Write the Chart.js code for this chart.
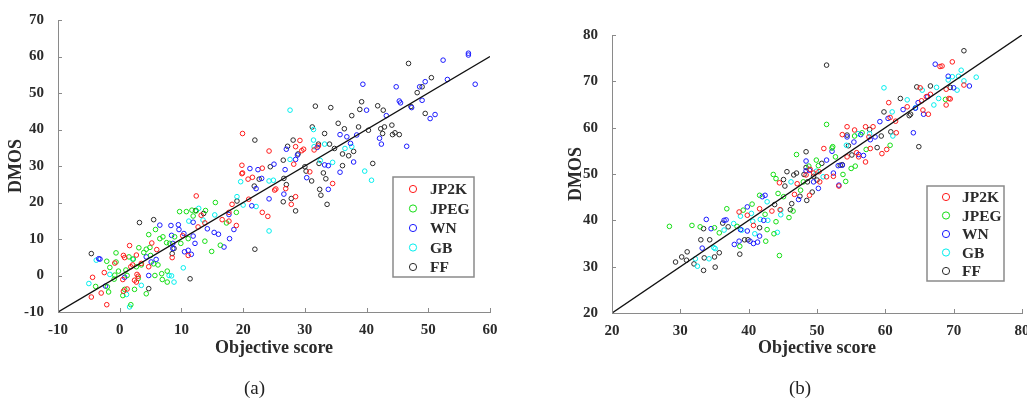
<!DOCTYPE html>
<html lang="en">
<head>
    <meta charset="UTF-8">
    <title>DMOS vs objective score</title>
    <script src="https://cdn.jsdelivr.net/npm/chart.js"></script>
    <style>
        html, body { margin: 0; padding: 0; background: #fff; overflow: hidden; }
        body { width: 1027px; height: 399px; position: relative; }
        canvas { position: absolute; top: 0; }
        #chartA { left: 0; }
        #chartB { left: 540px; }
        .caption { position: absolute; top: 377px; font: 19px "Liberation Serif", serif; color: #222; }
        #capA { left: 244px; }
        #capB { left: 789px; }
    </style>
</head>
<body>
    <canvas id="chartA" width="510" height="399"></canvas>
    <canvas id="chartB" width="500" height="399"></canvas>
    <div class="caption" id="capA">(a)</div>
    <div class="caption" id="capB">(b)</div>

    <script>
        // Series names and colours (shared by both panels)
        const labels = ['JP2K', 'JPEG', 'WN', 'GB', 'FF'];
        const colors = ['#ff1a1a', '#14dd14', '#1a1aff', '#00eeee', '#2a2a2a'];

        // Panel (a): [objective score, DMOS]
        const jp2kA = [[-4.6,-5.9],[-4.4,-0.5],[-3.0,-4.8],[-2.5,0.8],[-2.1,-8.0],[-0.8,3.4],[0.6,5.5],[0.8,4.9],[0.5,-1.1],[0.6,-4.3],
            [1.2,-3.7],[1.6,8.2],[1.8,2.4],[2.1,2.9],[2.4,-1.3],[2.7,-1.8],[2.7,5.6],[2.8,0.3],[3.0,-0.2],[3.5,3.3],
            [4.7,2.4],[5.2,8.9],[6.0,7.1],[8.5,4.9],[10.2,10.9],[11.1,5.5],[12.4,21.8],[12.7,13.3],[13.2,16.5],[13.8,14.4],
            [16.6,15.3],[17.7,14.9],[17.7,17.3],[18.2,19.5],[18.9,13.7],[19.9,38.9],[19.8,30.2],[19.8,27.9],[19.9,28.1],[20.8,26.4],
            [20.9,20.9],[21.5,26.9],[23.1,29.4],[23.1,17.3],[24.0,16.2],[24.2,34.1],[25.1,23.4],[25.3,23.7],[26.9,23.8],[27.8,19.5],
            [28.2,30.5],[28.5,35.3],[28.5,21.6],[29.2,37.0],[29.5,34.2],[29.8,34.6],[30.8,28.4],[31.5,34.4],[34.5,25.2],[32.2,35.5]];
        const jpegA = [[-3.9,-3.0],[-2.1,3.9],[-2.0,-3.1],[-1.8,-4.5],[-1.6,2.2],[-0.9,-1.0],[-0.8,0.1],[-0.6,6.2],[-0.6,3.7],[-0.2,1.2],
            [0.5,-5.5],[0.8,-3.8],[1.2,0.0],[1.5,5.1],[1.8,-8.0],[2.4,-3.8],[2.7,2.4],[3.0,-0.8],[3.1,7.6],[3.5,2.9],
            [3.9,6.3],[4.3,7.2],[4.3,-5.0],[4.7,11.2],[4.9,7.7],[5.5,3.2],[5.7,0.0],[5.8,12.6],[6.2,2.9],[6.5,10.1],
            [6.8,0.5],[6.9,-1.1],[7.0,10.6],[7.6,9.0],[7.7,1.2],[7.7,-1.8],[8.1,8.8],[8.9,10.6],[9.7,17.5],[9.9,8.8],
            [10.8,17.5],[11.1,10.1],[11.7,17.9],[11.9,16.3],[12.4,17.7],[13.8,9.4],[13.9,17.8],[14.9,6.6],[15.5,20.0],[16.3,8.3],
            [17.3,14.4],[18.9,17.3],[1.0,1.5],[2.2,4.5],[5.0,5.5]];
        const wnA = [[-3.4,4.6],[-3.2,4.5],[-2.3,-2.9],[0.8,-0.5],[4.3,5.1],[4.7,0.0],[5.1,3.7],[5.9,4.4],[6.5,13.8],[8.3,13.7],
            [8.4,11.0],[8.6,8.8],[8.6,7.4],[9.5,13.9],[9.6,12.6],[10.4,11.5],[10.5,6.5],[11.1,6.9],[11.6,5.8],[11.9,14.6],
            [11.9,10.8],[12.2,8.8],[14.2,12.8],[15.3,11.8],[16.0,11.3],[16.9,7.8],[17.8,10.1],[17.7,16.7],[18.5,12.6],[21.1,29.3],
            [21.4,19.1],[22.1,23.8],[22.4,29.0],[23.0,26.6],[24.2,21.0],[25.0,30.5],[26.6,22.3],[26.8,29.0],[27.0,34.6],[28.5,31.8],
            [28.8,33.0],[30.3,26.8],[32.0,35.1],[33.2,30.3],[33.8,30.1],[33.8,23.6],[35.7,28.3],[35.7,38.6],[36.8,38.0],[37.4,36.2],
            [37.9,31.1],[38.4,38.5],[39.4,52.4],[40.0,45.3],[42.1,37.6],[42.4,36.0],[43.2,43.8],[44.8,51.7],[45.3,47.8],[45.5,47.3],
            [46.5,35.4],[47.3,46.0],[48.6,51.7],[49.0,48.0],[49.5,53.1],[50.3,43.0],[51.1,44.1],[52.4,59.0],[53.1,53.7],[56.5,60.9],
            [56.5,60.4],[57.6,52.4]];
        const gbA = [[-5.0,-2.2],[-3.8,4.2],[-1.6,0.3],[1.1,-5.2],[1.6,-8.6],[2.1,4.5],[3.5,-2.7],[8.0,0.0],[8.4,-0.1],[8.8,-1.8],
            [10.3,2.1],[11.2,14.9],[12.8,18.4],[13.5,15.2],[15.4,16.6],[19.0,21.6],[19.6,25.7],[20.0,19.3],[22.1,18.9],[24.2,25.9],
            [24.2,12.2],[24.9,26.1],[27.6,45.3],[27.6,31.8],[31.4,37.1],[31.4,40.0],[31.5,35.3],[33.2,36.0],[34.5,31.0],[36.5,34.8],
            [37.6,35.3],[39.7,28.6],[40.8,26.1],[32.5,31.5]];
        const ffA = [[-4.6,6.0],[3.2,14.5],[4.7,-3.6],[5.5,15.3],[8.5,6.0],[8.8,7.4],[11.4,-0.9],[12.3,17.8],[13.6,17.0],[19.0,20.4],
            [21.9,37.1],[21.8,24.5],[21.9,7.2],[22.6,26.4],[24.4,29.8],[26.5,31.6],[26.5,20.2],[26.6,26.6],[27.0,24.9],[27.2,35.4],
            [27.8,21.1],[28.1,37.1],[28.5,17.7],[28.9,33.3],[30.0,29.8],[30.2,28.6],[31.2,40.7],[31.7,46.4],[32.2,36.0],[32.3,30.7],
            [32.4,23.6],[32.6,22.0],[31.1,25.9],[33.0,28.1],[33.2,38.9],[33.4,26.5],[33.6,19.5],[34.0,36.0],[34.2,46.0],[34.8,34.8],
            [35.4,41.7],[36.1,33.3],[36.1,30.1],[36.4,40.2],[37.1,32.8],[37.6,43.8],[37.9,34.0],[38.7,40.7],[38.9,45.5],[39.2,47.6],
            [40.3,39.8],[41.0,30.7],[41.8,46.5],[42.3,40.2],[42.6,38.9],[42.7,45.3],[42.9,40.7],[44.1,41.2],[44.2,38.6],[44.6,39.1],
            [45.3,38.6],[46.8,58.1],[47.2,46.3],[48.2,50.1],[49.0,51.7],[49.5,44.4],[50.5,54.2]];
        const fitA = [-10, 60];

        // Panel (b): [objective score, DMOS]
        const jp2kB = [[38.6,41.8],[39.8,41.1],[40.7,38.9],[41.6,42.5],[43.4,42.0],[44.5,48.1],[44.6,42.3],[46.7,45.6],[47.1,47.9],[48.4,49.8],
            [49.0,51.0],[48.9,45.4],[49.5,50.2],[50.3,50.5],[50.4,48.3],[51.0,55.5],[51.4,49.4],[52.4,49.5],[53.2,47.4],[53.7,58.5],
            [54.4,60.2],[54.4,53.7],[55.5,59.5],[55.8,54.6],[56.1,53.7],[57.1,60.2],[57.1,52.6],[57.6,58.0],[57.8,55.5],[58.2,60.2],
            [59.5,54.4],[60.2,55.3],[60.5,65.4],[60.7,62.2],[61.5,61.4],[61.6,58.9],[63.2,64.5],[65.1,68.6],[65.3,65.8],[65.5,63.8],
            [66.0,66.7],[66.3,62.9],[66.6,67.2],[68.0,73.2],[68.3,73.3],[68.9,68.3],[68.9,64.9],[69.3,66.3],[69.5,66.2],[69.8,74.2],
            [71.5,69.2]];
        const jpegB = [[28.4,38.7],[31.7,38.9],[32.9,38.6],[35.0,38.4],[35.7,37.3],[36.8,42.5],[38.3,38.7],[38.7,34.4],[39.2,42.2],[41.6,45.4],
            [42.4,41.3],[42.5,35.5],[42.7,38.0],[43.6,49.9],[43.7,37.1],[44.0,39.7],[44.3,45.8],[44.5,32.4],[45.1,45.1],[45.9,40.6],
            [46.5,42.0],[47.0,54.2],[47.6,46.5],[48.0,48.3],[48.8,51.7],[49.9,53.0],[50.2,51.8],[51.4,60.7],[52.2,55.6],[52.3,55.9],
            [52.7,53.7],[53.8,49.9],[54.2,48.4],[55.0,51.2],[55.6,51.7],[55.5,58.2],[56.6,58.9],[57.2,55.3],[60.7,56.2],[68.8,66.1],
            [40.5,43.5],[44.0,49.0]];
        const wnB = [[33.8,40.2],[33.2,34.0],[34.5,38.2],[36.4,40.0],[36.7,40.1],[37.9,34.8],[38.6,35.5],[38.8,38.0],[39.8,42.9],[39.8,37.7],
            [40.2,35.5],[40.7,35.0],[41.3,35.3],[41.6,36.6],[42.0,45.1],[42.2,40.0],[42.4,45.4],[47.3,44.5],[48.4,52.8],[48.4,50.7],
            [48.9,50.8],[49.5,48.3],[50.2,46.9],[51.4,53.0],[52.2,54.9],[52.4,50.2],[53.1,51.8],[53.2,47.6],[53.7,51.9],[54.4,58.0],
            [55.4,56.9],[56.1,54.2],[56.4,58.5],[56.8,54.0],[57.8,57.4],[58.5,58.0],[59.2,61.3],[60.4,62.0],[62.6,63.9],[64.1,58.9],
            [64.4,64.2],[64.8,65.4],[65.6,62.9],[66.2,66.7],[67.3,73.7],[69.2,71.1],[70.0,68.6],[72.3,69.0]];
        const gbB = [[32.2,31.7],[32.5,30.1],[34.2,31.7],[34.9,34.1],[35.1,33.9],[36.4,37.9],[37.8,39.3],[38.8,40.9],[39.0,37.9],[40.4,41.5],
            [40.6,39.8],[40.9,37.1],[41.7,40.2],[42.8,40.0],[42.7,44.0],[44.2,37.4],[44.7,42.2],[44.7,41.2],[46.2,48.3],[49.9,50.6],
            [50.9,49.4],[54.3,56.2],[56.0,58.7],[57.7,58.7],[59.8,68.6],[61.1,58.2],[61.0,63.4],[63.2,66.0],[64.4,64.3],[65.4,68.1],
            [67.1,64.9],[67.5,68.7],[67.8,66.3],[69.2,70.3],[69.8,71.0],[70.5,68.1],[70.7,71.1],[71.1,72.4],[71.5,70.1],[73.3,70.9]];
        const ffB = [[29.3,31.0],[30.2,32.1],[31.0,33.2],[30.9,31.4],[32.0,30.6],[33.0,35.8],[33.4,29.2],[33.4,38.2],[33.5,31.9],[34.3,35.8],
            [35.0,32.1],[35.1,29.9],[35.7,33.0],[36.2,39.4],[37.0,38.6],[38.7,32.7],[39.4,35.8],[39.9,35.8],[41.6,38.4],[43.8,43.4],
            [45.1,48.8],[45.3,47.4],[45.6,50.5],[46.1,42.3],[46.3,43.6],[46.6,49.8],[47.0,50.2],[47.5,45.2],[48.1,49.9],[48.4,54.8],
            [48.4,51.4],[48.5,44.3],[48.6,48.3],[49.3,46.1],[49.5,49.5],[50.0,48.7],[50.7,52.3],[51.4,73.5],[53.4,51.9],[53.7,52.0],
            [54.4,58.4],[54.6,56.1],[55.1,54.1],[57.7,59.6],[58.8,55.7],[59.4,58.2],[59.8,63.4],[60.8,59.1],[62.2,66.3],[63.5,62.6],
            [63.7,62.9],[64.6,68.8],[64.9,55.9],[66.6,69.0],[69.5,68.7],[71.5,76.6]];
        const fitB = [20, 80];

        const serif = '"Liberation Serif", "Times New Roman", serif';
        const textColor = '#2b2b2b';
        const axisColor = '#8a8a8a';

        // Short tick marks pointing into the plot (MATLAB style)
        const innerTicks = {
            id: 'innerTicks',
            afterDatasetsDraw(chart) {
                const ctx = chart.ctx, area = chart.chartArea;
                const xs = chart.scales.x, ys = chart.scales.y;
                ctx.save();
                ctx.strokeStyle = axisColor;
                ctx.lineWidth = 1;
                ctx.beginPath();
                xs.ticks.forEach(t => {
                    const px = Math.round(xs.getPixelForValue(t.value)) + 0.5;
                    ctx.moveTo(px, area.bottom);
                    ctx.lineTo(px, area.bottom - 4);
                });
                ys.ticks.forEach(t => {
                    const py = Math.round(ys.getPixelForValue(t.value)) + 0.5;
                    ctx.moveTo(area.left, py);
                    ctx.lineTo(area.left + 4, py);
                });
                ctx.stroke();
                ctx.restore();
            }
        };

        // Boxed legend drawn inside the axes
        const boxLegend = {
            id: 'boxLegend',
            afterDraw(chart, args, opts) {
                const ctx = chart.ctx;
                ctx.save();
                ctx.fillStyle = '#fff';
                ctx.fillRect(opts.x, opts.y, opts.w, opts.h);
                ctx.strokeStyle = '#8a8a8a';
                ctx.lineWidth = 1.5;
                ctx.strokeRect(opts.x, opts.y, opts.w, opts.h);
                ctx.font = 'bold 15.5px ' + serif;
                ctx.textBaseline = 'middle';
                labels.forEach((name, i) => {
                    const cy = opts.y + opts.first + i * opts.step;
                    ctx.beginPath();
                    ctx.strokeStyle = colors[i];
                    ctx.lineWidth = 1;
                    ctx.arc(opts.x + opts.mark, cy, 3.6, 0, Math.PI * 2);
                    ctx.stroke();
                    ctx.fillStyle = textColor;
                    ctx.fillText(name, opts.x + opts.text, cy + 1);
                });
                ctx.restore();
            }
        };

        function makeChart(id, series, fit, cfg) {
            const datasets = [{
                type: 'line',
                data: fit.map(v => ({x: v, y: v})),
                borderColor: '#111',
                borderWidth: 1.4,
                pointRadius: 0,
                order: 0
            }];
            series.forEach((pts, i) => {
                datasets.push({
                    label: labels[i],
                    data: pts.map(p => ({x: p[0], y: p[1]})),
                    borderColor: colors[i],
                    backgroundColor: 'rgba(0,0,0,0)',
                    pointStyle: 'circle',
                    pointRadius: 2.3,
                    pointBorderWidth: 1,
                    order: 1 + i
                });
            });

            const tickFont = {family: serif, size: 15, weight: 'bold'};
            const titleFont = {family: serif, size: 18, weight: 'bold'};

            return new Chart(document.getElementById(id), {
                type: 'scatter',
                data: {datasets: datasets},
                options: {
                    responsive: false,
                    animation: false,
                    layout: {padding: {left: 0, top: cfg.top, right: cfg.right, bottom: 0}},
                    plugins: {
                        legend: {display: false},
                        tooltip: {enabled: false},
                        boxLegend: cfg.legend
                    },
                    scales: {
                        x: {
                            type: 'linear',
                            min: fit[0], max: fit[1],
                            grid: {display: false},
                            border: {color: axisColor, width: 1},
                            ticks: {stepSize: 10, color: textColor, font: tickFont, padding: 1},
                            title: {display: true, text: 'Objective score', color: textColor, font: titleFont,
                                    padding: {top: 0, bottom: 40}},
                            afterFit: s => { s.height = 399 - cfg.bottom; }
                        },
                        y: {
                            type: 'linear',
                            min: cfg.ymin, max: cfg.ymax,
                            grid: {display: false},
                            border: {color: axisColor, width: 1},
                            ticks: {stepSize: 10, color: textColor, font: tickFont, padding: 6},
                            title: {display: true, text: 'DMOS', color: textColor, font: titleFont,
                                    padding: {top: cfg.titleLeft, bottom: 0}},
                            afterFit: s => { s.width = cfg.left; }
                        }
                    }
                },
                plugins: [innerTicks, boxLegend]
            });
        }

        makeChart('chartA', [jp2kA, jpegA, wnA, gbA, ffA], fitA, {
            left: 58, top: 20, right: 20, bottom: 312, ymin: -10, ymax: 70, titleLeft: 6,
            legend: {x: 393, y: 177, w: 81, h: 100, mark: 20, text: 37, first: 12, step: 19.5}
        });

        makeChart('chartB', [jp2kB, jpegB, wnB, gbB, ffB], fitB, {
            left: 72, top: 35, right: 18, bottom: 313, ymin: 20, ymax: 80, titleLeft: 26,
            legend: {x: 387, y: 186, w: 77, h: 95, mark: 19, text: 35, first: 11, step: 18.5}
        });
    </script>
</body>
</html>
